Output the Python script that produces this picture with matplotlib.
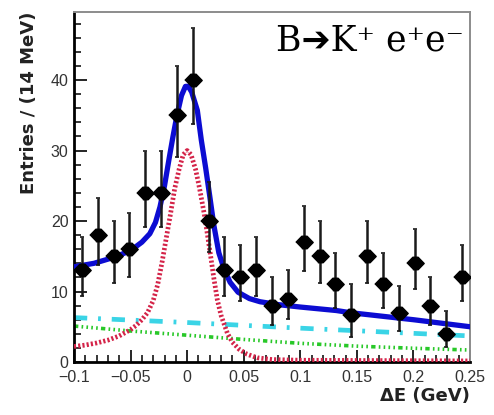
import numpy as np
import matplotlib
matplotlib.use('Agg')
import matplotlib.pyplot as plt
from matplotlib.ticker import MultipleLocator

# binned data, 14 MeV bins from -0.1 to 0.25 GeV
bin_lo, bin_hi, n_bins = -0.1, 0.25, 25
counts = [13, 18, 15, 16, 24, 24, 35, 40, 20, 13, 12, 13, 8,
          9, 17, 15, 11, 6.7, 15, 11, 7, 14, 8, 4, 12]
err_up = [4.7, 5.3, 5.0, 5.1, 6.0, 6.0, 7.0, 7.4, 5.5, 4.7, 4.6, 4.7, 4.0,
          4.1, 5.2, 5.0, 4.4, 4.3, 5.0, 4.4, 3.8, 4.8, 4.0, 3.2, 4.6]
err_dn = [3.6, 4.2, 3.8, 4.0, 4.9, 4.9, 5.9, 6.3, 4.4, 3.6, 3.4, 3.6, 2.8,
          2.9, 4.1, 3.8, 3.3, 3.2, 3.8, 3.3, 2.6, 3.7, 2.8, 1.9, 3.4]

# fit components
sig_x = [-0.100, -0.090, -0.080, -0.070, -0.060, -0.050, -0.045, -0.040,
         -0.035, -0.030, -0.026, -0.022, -0.018, -0.0145, -0.011, -0.007,
         -0.0035, 0.000, 0.0035, 0.0075, 0.011, 0.0149, 0.018, 0.0208,
         0.0235, 0.0267, 0.030, 0.0355, 0.040, 0.046, 0.053, 0.062, 0.075,
         0.100, 0.250]
sig_y = [2.2, 2.4, 2.7, 3.1, 3.7, 4.6, 5.2, 6.0,
         7.0, 8.7, 11.0, 14.3, 18.0, 21.2, 24.6, 27.4,
         29.4, 30.0, 29.4, 27.3, 24.6, 21.2, 18.0, 15.0,
         12.0, 8.8, 6.6, 4.1, 2.8, 1.8, 1.1, 0.6, 0.35,
         0.25, 0.15]

tot_x = [-0.100, -0.0823, -0.0646, -0.050, -0.040, -0.033, -0.028, -0.024,
         -0.020, -0.016, -0.0125, -0.009, -0.005, -0.0015, 0.001, 0.004,
         0.009, 0.0125, 0.0164, 0.020, 0.0235, 0.028, 0.033, 0.038, 0.045,
         0.055, 0.0644, 0.080, 0.0998, 0.132, 0.144, 0.200, 0.250]
tot_y = [13.5, 14.0, 14.85, 15.8, 17.0, 18.2, 19.8, 22.0,
         25.0, 28.8, 32.0, 35.0, 37.8, 39.1, 39.1, 38.3,
         35.7, 31.5, 27.5, 23.5, 19.5, 15.5, 13.0, 11.3, 9.9,
         9.0, 8.55, 8.15, 7.8, 7.3, 7.0, 6.0, 5.0]

bkg1_x = [-0.100, 0.000, 0.100, 0.250]
bkg1_y = [6.3, 5.6, 4.8, 3.7]

bkg2_x = [-0.100, -0.050, 0.000, 0.050, 0.100, 0.150, 0.200, 0.250]
bkg2_y = [5.1, 4.4, 3.8, 3.2, 2.65, 2.25, 1.95, 1.7]

plt.rcParams['font.family'] = ['Liberation Sans', 'DejaVu Sans']

fig = plt.figure(figsize=(4.94, 4.15), dpi=100)
ax = fig.add_axes([74 / 494, 53 / 415, 396 / 494, 350 / 415])

edges = np.linspace(bin_lo, bin_hi, n_bins + 1)
centers = 0.5 * (edges[:-1] + edges[1:])

ax.plot(bkg1_x, bkg1_y, color='#3ad4e6', lw=3.4,
        linestyle=(0, (2.8, 2.3, 0.6, 2.3)), zorder=2)
ax.plot(bkg2_x, bkg2_y, color='#28c828', lw=2.6,
        linestyle=(0, (1.2, 0.9, 0.45, 0.9, 0.45, 0.9, 0.45, 0.9, 0.45, 0.9)),
        zorder=2)
ax.plot(sig_x, sig_y, color='#d42348', lw=3.4,
        linestyle=(0, (0.45, 0.45)), zorder=3)
ax.plot(tot_x, tot_y, color='#0c0cd2', lw=3.8, zorder=4,
        solid_joinstyle='round')

diamond = [(-1, 0), (-0.3, 0.72), (0.3, 0.72), (1, 0), (0.3, -0.72), (-0.3, -0.72)]
ax.errorbar(centers, counts, yerr=[err_dn, err_up], fmt='none',
            ecolor='#1a1a1a', elinewidth=1.8, capsize=1.6, capthick=1.2,
            zorder=5)
ax.plot(centers, counts, linestyle='none', marker=diamond, markersize=12.5,
        color='black', zorder=6)

ax.set_xlim(bin_lo, bin_hi)
ax.set_ylim(0, 49.65)
ax.xaxis.set_minor_locator(MultipleLocator(0.01))
ax.yaxis.set_major_locator(MultipleLocator(10))
ax.yaxis.set_minor_locator(MultipleLocator(2))
ax.set_xticks([-0.1, -0.05, 0, 0.05, 0.1, 0.15, 0.2, 0.25])
ax.set_xticklabels(['\u22120.1', '\u22120.05', '0', '0.05', '0.1', '0.15', '0.2', '0.25'])
ax.tick_params(which='both', direction='in', top=False, right=False,
               color='black', labelcolor='#333333', labelsize=11.5)
ax.tick_params(which='major', length=9, width=1.2)
ax.tick_params(which='minor', length=5, width=1.1)
ax.tick_params(axis='x', pad=6)
ax.tick_params(axis='y', pad=4)

for side in ('left', 'bottom'):
    ax.spines[side].set_linewidth(2.0)
    ax.spines[side].set_color('black')
for side in ('top', 'right'):
    ax.spines[side].set_linewidth(1.4)
    ax.spines[side].set_color('#8c8c8c')

ax.set_ylabel('Entries / (14 MeV)', family='DejaVu Sans', fontsize=13,
              fontweight='bold', color='#222222', loc='top', labelpad=9)
ax.set_xlabel('\u0394E (GeV)', family='DejaVu Sans', fontsize=13,
              fontweight='bold', color='#222222', loc='right', labelpad=1)

# decay label: serif letters, heavy arrow from the sans family
ax.text(0.985, 0.89, 'B\u2794K\u207a e\u207ae\u207b',
        family=['DejaVu Serif', 'DejaVu Sans'],
        transform=ax.transAxes, ha='right', va='baseline', fontsize=25,
        color='black')

fig.savefig('out.png', dpi=100)
